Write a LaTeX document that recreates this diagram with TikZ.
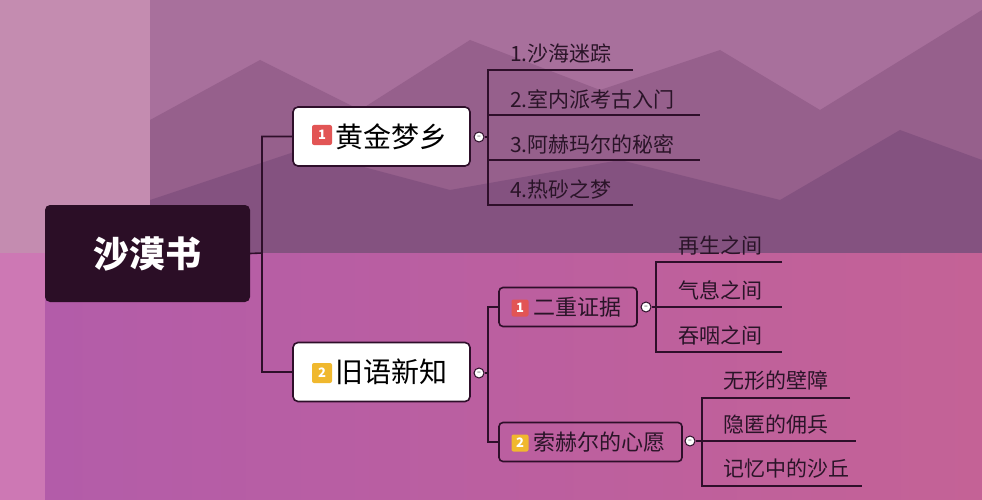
\documentclass[tikz,border=0pt]{standalone}
\usepackage{fontspec}
\setmainfont{Noto Sans CJK SC}
\usetikzlibrary{positioning,calc,shapes.geometric}

\definecolor{rootcol}{HTML}{2B0E26}
\definecolor{linecol}{HTML}{2E0F2A}
\definecolor{textcol}{HTML}{2A1428}
\definecolor{badgered}{HTML}{E25555}
\definecolor{badgeyel}{HTML}{F0B82E}

\tikzset{
  root/.style={draw=none, fill=rootcol, rounded corners=5pt, minimum width=205pt, minimum height=97pt, text=white, font=\fontsize{36}{36}\selectfont\bfseries},
  topic/.style={draw=linecol, line width=1.6pt, fill=white, rounded corners=5pt, minimum width=177pt, minimum height=59pt, text=black, font=\fontsize{28}{28}\selectfont},
  sub/.style={draw=linecol, line width=1.6pt, fill=none, rounded corners=4pt, minimum height=39pt, text=textcol, font=\fontsize{22}{22}\selectfont},
  leaf/.style={anchor=south west, inner sep=2pt, text=textcol, font=\fontsize{21}{21}\selectfont},
  badge/.style={fill=#1, rounded corners=2pt, minimum size=#1size, inner sep=0pt, text=white, font=\fontsize{13}{13}\selectfont\bfseries},
  fold/.style={circle, draw=linecol, line width=1pt, fill=white, minimum size=10pt, inner sep=0pt, font=\fontsize{7}{7}\selectfont},
  branch/.style={draw=linecol, line width=1.6pt},
}

\begin{document}
\begin{tikzpicture}[x=1pt, y=-1pt]
  % background
  \fill[color={rgb,255:red,168;green,112;blue,156}] (0,0) rectangle (982,253);
  \fill[color={rgb,255:red,196;green,140;blue,176}] (0,0) rectangle (150,253);
  \fill[color={rgb,255:red,150;green,96;blue,140}] (150,253) -- (150,120) -- (260,60) -- (360,110) -- (470,40) -- (600,90) -- (720,50) -- (820,110) -- (982,10) -- (982,253) -- cycle;
  \fill[color={rgb,255:red,132;green,82;blue,128}] (150,253) -- (150,200) -- (300,150) -- (450,190) -- (620,160) -- (780,200) -- (900,130) -- (982,160) -- (982,253) -- cycle;
  \shade[left color={rgb,255:red,178;green,92;blue,170}, right color={rgb,255:red,196;green,98;blue,150}] (0,253) rectangle (982,500);
  \fill[color={rgb,255:red,205;green,120;blue,180}] (0,253) rectangle (45,500);
  \useasboundingbox (0,0) rectangle (982,500);

  % root and topics
  \node[root] (book) at (147.5,253.5) {沙漠书};
  \node[topic] (gold) at (381.5,136.5) {\hspace{20pt}黄金梦乡};
  \node[badge=badgered, minimum size=20pt] (goldnum) at (322,135) {1};
  \node[topic] (old) at (381.5,372) {\hspace{20pt}旧语新知};
  \node[badge=badgeyel, minimum size=20pt] (oldnum) at (322,373) {2};
  \node[fold] (goldfold) at (479,137) {--};
  \node[fold] (oldfold) at (479,373) {--};

  \coordinate (j0) at (262,253);
  \draw[branch] (book.east) -- (j0) |- (gold.west);
  \draw[branch] (j0) |- (old.west);

  % first topic leaves
  \coordinate (ga) at (488,70);
  \coordinate (gb) at (488,205);
  \draw[branch] (goldfold) -- (488,137);
  \draw[branch] (633,70) -- (ga) -- (gb) -- (633,205);
  \draw[branch] (488,115) -- (700,115);
  \draw[branch] (488,160) -- (700,160);
  \node[leaf] (g1) at (508,66) {1.沙海迷踪};
  \node[leaf] (g2) at (508,111) {2.室内派考古入门};
  \node[leaf] (g3) at (508,156) {3.阿赫玛尔的秘密};
  \node[leaf] (g4) at (508,201) {4.热砂之梦};

  % second topic subtopics
  \node[sub, minimum width=138pt] (proof) at (568,307) {\hspace{18pt}二重证据};
  \node[badge=badgered, minimum size=17pt] (proofnum) at (520,308) {1};
  \node[sub, minimum width=183pt] (wish) at (590.5,442) {\hspace{18pt}索赫尔的心愿};
  \node[badge=badgeyel, minimum size=17pt] (wishnum) at (520,443) {2};
  \node[fold] (prooffold) at (646,307) {--};
  \node[fold] (wishfold) at (690,441) {--};
  \coordinate (oa) at (488,307);
  \coordinate (ob) at (488,442);
  \draw[branch] (oldfold) -- (488,373);
  \draw[branch] (proof.west) -- (oa) -- (ob) -- (wish.west);

  % leaves of subtopics
  \draw[branch] (prooffold) -- (656,307);
  \draw[branch] (782,262) -- (656,262) -- (656,352) -- (782,352);
  \draw[branch] (656,307) -- (782,307);
  \node[leaf] (p1) at (676,257) {再生之间};
  \node[leaf] (p2) at (676,302) {气息之间};
  \node[leaf] (p3) at (676,347) {吞咽之间};

  \draw[branch] (wishfold) -- (702,441);
  \draw[branch] (850,398) -- (702,398) -- (702,486) -- (862,486);
  \draw[branch] (702,441) -- (856,441);
  \node[leaf] (w1) at (721,393) {无形的壁障};
  \node[leaf] (w2) at (721,436) {隐匿的佣兵};
  \node[leaf] (w3) at (721,481) {记忆中的沙丘};
\end{tikzpicture}
\end{document}
